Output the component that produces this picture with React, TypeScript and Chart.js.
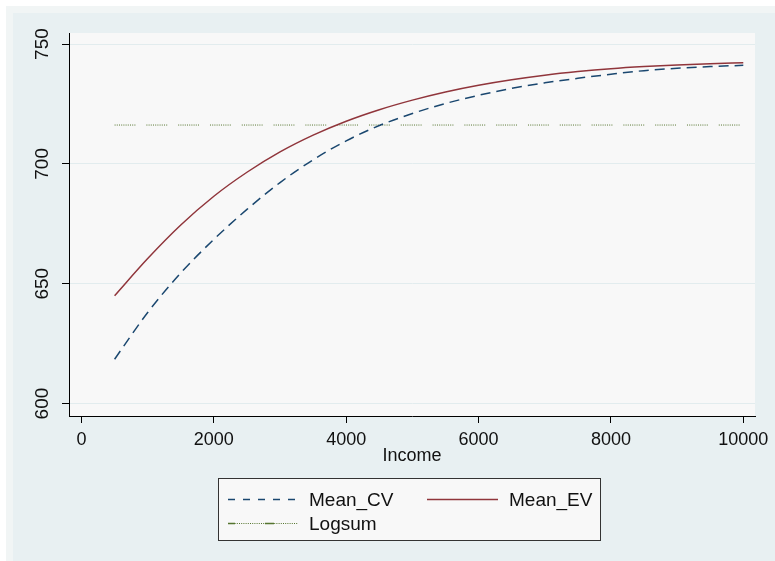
import React, { useEffect, useRef } from "react";
import { Chart, registerables } from "chart.js";

Chart.register(...registerables);

// ---- data ----
const incomes = [500, 1000, 1500, 2000, 2500, 3000, 3500, 4000, 4500, 5000, 5500, 6000, 6500, 7000, 7500, 8000, 8500, 9000, 9500, 10000];
const meanCV = [618.5, 638, 654.5, 668.5, 681, 692.2, 701.7, 709.6, 716, 721, 725.2, 728.6, 731.5, 733.8, 735.7, 737.4, 738.9, 739.9, 740.6, 741.1];
const meanEV = [645, 660.5, 674.5, 686.5, 696.5, 705, 712, 717.8, 722.6, 726.6, 730, 732.8, 735.1, 737, 738.5, 739.7, 740.6, 741.3, 741.8, 742.2];
const logsumIncomes = [500, 10000];
const logsumValues = [716.2, 716.2];

const seriesNames = ["Mean_CV", "Mean_EV", "Logsum"];
const xTicks = [0, 2000, 4000, 6000, 8000, 10000];
const yTicks = [600, 650, 700, 750];
const xTitle = "Income";

const NAVY = "#1a476f";
const MAROON = "#90353b";
const GREEN = "#55752f";
const TEXT = "#111111";
const FONT = "'Liberation Sans', Arial, Helvetica, sans-serif";

const greenDash: number[] = (() => {
  const d: number[] = [];
  for (let i = 0; i < 10; i++) d.push(1, 1.2);
  d[d.length - 1] = 11;
  return d;
})();

const bgPlugin = {
  id: "stataBg",
  beforeDraw(chart: any) {
    const { ctx, width, height, chartArea } = chart;
    ctx.save();
    ctx.fillStyle = "#ffffff";
    ctx.fillRect(0, 0, width, height);
    ctx.fillStyle = "#f1f5f5";
    ctx.fillRect(6, 6, width - 6, height - 6);
    ctx.fillStyle = "#e8f0f2";
    ctx.fillRect(13, 13, width - 13, height - 13);
    ctx.fillStyle = "#f8f8f8";
    ctx.fillRect(chartArea.left, chartArea.top, chartArea.right - chartArea.left, chartArea.bottom - chartArea.top);
    ctx.restore();
  },
};

const legendPlugin = {
  id: "stataLegend",
  afterDraw(chart: any) {
    const { ctx } = chart;
    ctx.save();
    const bx = 218.5, by = 478.5, bw = 382, bh = 62;
    ctx.fillStyle = "#f8f8f8";
    ctx.fillRect(bx, by, bw, bh);
    ctx.strokeStyle = "#333333";
    ctx.lineWidth = 1;
    ctx.strokeRect(bx, by, bw, bh);

    const row1 = 499.5, row2 = 523.5;
    ctx.font = "19px " + FONT;
    ctx.fillStyle = TEXT;
    ctx.textBaseline = "middle";
    ctx.textAlign = "left";

    // Mean_CV
    ctx.strokeStyle = NAVY;
    ctx.lineWidth = 1.5;
    ctx.setLineDash([7, 8]);
    ctx.beginPath();
    ctx.moveTo(228, row1);
    ctx.lineTo(298, row1);
    ctx.stroke();
    ctx.fillText(seriesNames[0], 309, row1 + 1);

    // Mean_EV
    ctx.strokeStyle = MAROON;
    ctx.setLineDash([]);
    ctx.beginPath();
    ctx.moveTo(427, row1);
    ctx.lineTo(498, row1);
    ctx.stroke();
    ctx.fillText(seriesNames[1], 509, row1 + 1);

    // Logsum
    ctx.strokeStyle = GREEN;
    ctx.lineWidth = 1;
    ctx.setLineDash([1, 1.2]);
    ctx.beginPath();
    ctx.moveTo(228, row2);
    ctx.lineTo(298, row2);
    ctx.stroke();
    ctx.setLineDash([]);
    ctx.lineWidth = 1.5;
    ctx.beginPath();
    ctx.moveTo(228, row2);
    ctx.lineTo(235, row2);
    ctx.moveTo(265, row2);
    ctx.lineTo(274, row2);
    ctx.stroke();
    ctx.fillText(seriesNames[2], 309, row2 + 1);
    ctx.restore();
  },
};

export default function App() {
  const ref = useRef<HTMLCanvasElement | null>(null);

  useEffect(() => {
    if (!ref.current) return;
    const chart = new Chart(ref.current, {
      type: "line",
      data: {
        datasets: [
          {
            label: seriesNames[0],
            data: incomes.map((x, i) => ({ x, y: meanCV[i] })),
            borderColor: NAVY,
            borderWidth: 1.5,
            borderDash: [10, 6],
            pointRadius: 0,
            fill: false,
            cubicInterpolationMode: "monotone",
          },
          {
            label: seriesNames[1],
            data: incomes.map((x, i) => ({ x, y: meanEV[i] })),
            borderColor: MAROON,
            borderWidth: 1.5,
            pointRadius: 0,
            fill: false,
            cubicInterpolationMode: "monotone",
          },
          {
            label: seriesNames[2],
            data: logsumIncomes.map((x, i) => ({ x, y: logsumValues[i] })),
            borderColor: GREEN,
            borderWidth: 1,
            borderDash: greenDash,
            pointRadius: 0,
            fill: false,
          },
        ],
      },
      options: {
        animation: false,
        responsive: false,
        events: [],
        layout: { padding: { left: 0, top: 33, right: 20, bottom: 94 } },
        plugins: {
          legend: { display: false },
          tooltip: { enabled: false },
        },
        scales: {
          x: {
            type: "linear",
            min: -189,
            max: 10177,
            afterBuildTicks: (scale: any) => {
              scale.ticks = xTicks.map((v) => ({ value: v }));
            },
            afterFit: (scale: any) => {
              scale.height = 51;
            },
            grid: {
              drawOnChartArea: false,
              drawTicks: true,
              tickLength: 7,
              tickColor: "#000000",
              lineWidth: 1,
            },
            border: { display: true, color: "#000000", width: 1 },
            ticks: {
              padding: 6,
              color: TEXT,
              maxRotation: 0,
              minRotation: 0,
              autoSkip: false,
              font: { family: FONT, size: 18 },
              callback: (v: any) => String(v),
            },
            title: {
              display: true,
              text: xTitle,
              color: TEXT,
              padding: { top: 0, bottom: 0 },
              font: { family: FONT, size: 18 },
            },
          },
          y: {
            type: "linear",
            min: 594.8,
            max: 754.6,
            afterBuildTicks: (scale: any) => {
              scale.ticks = yTicks.map((v) => ({ value: v }));
            },
            afterFit: (scale: any) => {
              scale.width = 69;
            },
            grid: {
              drawOnChartArea: true,
              drawTicks: true,
              tickLength: 7,
              color: "#e2ecee",
              tickColor: "#000000",
              lineWidth: 1,
            },
            border: { display: true, color: "#000000", width: 1 },
            ticks: {
              padding: 3,
              color: TEXT,
              minRotation: 90,
              maxRotation: 90,
              crossAlign: "center",
              autoSkip: false,
              font: { family: FONT, size: 19 },
              callback: (v: any) => String(v),
            },
          },
        },
      },
      plugins: [bgPlugin, legendPlugin],
    } as any);
    return () => chart.destroy();
  }, []);

  return (
    <div style={{ position: "fixed", left: 0, top: 0, width: 775, height: 561 }}>
      <canvas ref={ref} width={775} height={561} style={{ width: 775, height: 561, display: "block" }} />
    </div>
  );
}
